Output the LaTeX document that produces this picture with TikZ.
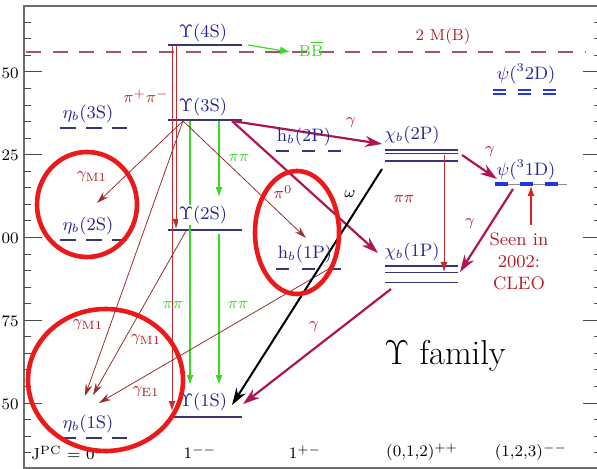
\documentclass[tikz,border=0pt]{standalone}
\usepackage{tikz}
\usetikzlibrary{arrows.meta,positioning,calc}
\usepackage{amsmath,amssymb}
\usepackage{xcolor}
\definecolor{lvlcol}{RGB}{35,35,150}
\definecolor{linecol}{RGB}{55,55,120}
\definecolor{psicol}{RGB}{30,55,225}
\definecolor{thrcol}{RGB}{165,85,95}
\definecolor{radcol}{RGB}{155,45,45}
\definecolor{picol}{RGB}{195,45,45}
\definecolor{seencol}{RGB}{225,30,30}
\definecolor{gamcol}{RGB}{175,20,85}
\definecolor{pipicol}{RGB}{60,215,40}
\definecolor{ringcol}{RGB}{235,25,25}
\definecolor{txtred}{RGB}{175,30,40}
\definecolor{framecol}{RGB}{110,110,110}
\tikzset{
  lvl/.style    ={draw=linecol, line width=0.7pt},
  lvldash/.style={draw=linecol, line width=0.7pt, dash pattern=on 8pt off 5pt},
  hbdash/.style ={draw=linecol, line width=0.7pt, dash pattern=on 6.5pt off 6.5pt},
  psidash/.style={draw=psicol, line width=#1, dash pattern=on 6.5pt off 6pt},
  psidash/.default=1pt,
  thrline/.style={draw=thrcol, line width=0.7pt, dash pattern=on 7.5pt off 5.8pt},
  lvllab/.style ={font=\small, text=lvlcol, inner sep=0.5pt},
  redlab/.style ={font=\footnotesize, text=#1, inner sep=0pt},
  redlab/.default=txtred,
  thinarr/.style={-{Stealth[length=6pt,width=3.5pt]}, line width=0.4pt, draw=radcol},
  gamarr/.style ={-{Stealth[length=8.5pt,width=5.5pt]}, line width=1.1pt, draw=#1},
  gamarr/.default=gamcol,
  pipiarr/.style={-{Latex[length=5pt,width=3.5pt]}, line width=0.6pt, draw=pipicol},
  redarr/.style ={-{Latex[length=5pt,width=3.5pt]}, line width=0.5pt, draw=#1},
  redarr/.default=picol,
  ring/.style   ={draw=ringcol, line width=2.3pt},
}
\begin{document}
\begin{tikzpicture}[x=0.5pt, y=-0.5pt,
  plotframe/.style={draw=framecol, line width=0.8pt},
  axtick/.style={draw=black!70, line width=0.5pt},
  ticklab/.style={font=\footnotesize, anchor=east, inner sep=0pt},
  jpclab/.style={font=\footnotesize, inner sep=0pt},
]
\useasboundingbox (0,0) rectangle (597,469);

%% Frame and ticks
\draw[plotframe] (597,6) -- (24,6) -- (24,468) -- (597,468);
\foreach \k in {0,...,26}
  \draw[axtick] (24,22.35+16.55*\k) -- (31,22.35+16.55*\k)
                (594,22.35+16.55*\k) -- (597,22.35+16.55*\k);
\foreach \k/\lab [count=\i] in {0/50,5/25,10/00,15/75,20/50}{
  \draw[axtick] (24,72+16.55*\k) -- (42,72+16.55*\k)
                (583,72+16.55*\k) -- (597,72+16.55*\k);
  \node[ticklab] (tick\i) at (19,73+16.55*\k) {\lab};
}

%% 2 M(B) threshold
\draw[thrline] (26,52) -- (585,52);
\node[redlab] (twomb) at (443,37) {2 M(B)};
\node[redlab=pipicol] (bbbar) at (311,49) {B$\overline{\mbox{B}}$};

%% Upsilon levels
\coordinate (u4s) at (203,45);
\coordinate (u3s) at (203,120);
\coordinate (u2s) at (203,230);
\coordinate (u1s) at (203,417);
\draw[lvl] (168,45)  -- (242,45);
\draw[lvl] (168,120) -- (242,120);
\draw[lvl] (168,230) -- (242,230);
\draw[lvl] (173,417) -- (242,417);

%% eta_b levels
\coordinate (e3s) at (88,128);
\coordinate (e2s) at (88,240);
\coordinate (e1s) at (88,438);
\draw[lvldash] (60,128) -- (127,128);
\draw[lvldash] (60,240) -- (127,240);
\draw[lvldash] (60,438) -- (127,438);

%% h_b levels
\coordinate (h2p) at (304,151);
\coordinate (h1p) at (305,269);
\draw[hbdash] (276,151) -- (343,151);
\draw[hbdash] (276,269) -- (343,269);

%% chi_b levels
\coordinate (c2p) at (412,150);
\coordinate (c1p) at (412,266);
\foreach \dy in {0,3.3,11}   \draw[lvl] (385,150+\dy) -- (458,150+\dy);
\foreach \dy in {0,6.7,16.7} \draw[lvl] (385,266+\dy) -- (458,266+\dy);

%% D waves
\coordinate (d2) at (526,90);
\coordinate (d1) at (526,184);
\draw[lvl, draw=black!45, line width=0.4pt] (495,184) -- (567,184);
\draw[psidash=1.6pt] (495,184) -- (560,184);
\draw[psidash=0.9pt] (493,90) -- (560,90);
\draw[psidash=0.9pt] (493,94) -- (560,94);

%% Arrow end points
\coordinate (pipiA) at (176,45);  \coordinate (pipiB) at (176,229);
\coordinate (pipiC) at (172,45);  \coordinate (pipiD) at (172,411);
\coordinate (g3sA) at (190,121);  \coordinate (g1sA) at (190,385);
\coordinate (g3sB) at (219,121);  \coordinate (g2sB) at (219,197);
\coordinate (g2sC) at (219,234);  \coordinate (g1sC) at (219,385);
\coordinate (bbA) at (248,45);    \coordinate (bbB) at (290,52);
\coordinate (r3s) at (183,121);   \coordinate (r2s) at (186,231);
\coordinate (rhb) at (332,267);
\coordinate (te2s) at (97,203);   \coordinate (thb1p) at (306,238);
\coordinate (te1sA) at (85,396);  \coordinate (te1sB) at (93,395);
\coordinate (te1sC) at (99,403);
\coordinate (m3s) at (232,121);
\coordinate (tx2p) at (382,144);  \coordinate (tx1p) at (378,253);
\coordinate (x2pR) at (462,155);  \coordinate (tpsi) at (497,179);
\coordinate (psiB) at (513,189);  \coordinate (tx1pR) at (460,272);
\coordinate (x1pL) at (391,289);  \coordinate (tu1sR) at (243,404);
\coordinate (wA) at (382,169);    \coordinate (wB) at (232,405);
\coordinate (x2pM) at (444,155);  \coordinate (x1pM) at (444,272);
\coordinate (seenA) at (531,225); \coordinate (seenB) at (531,186);

%% pi pi transitions
\draw[redarr] (pipiA) -- (pipiB);
\draw[redarr] (pipiC) -- (pipiD);
\draw[pipiarr] (g3sA) -- (g1sA);
\draw[pipiarr] (g3sB) -- (g2sB);
\draw[pipiarr] (g2sC) -- (g1sC);
\draw[redarr] (x2pM) -- (x1pM);
\draw[-{Latex[length=5pt,width=4pt]}, line width=0.6pt, draw=pipicol] (bbA) -- (bbB);

%% M1, E1 and pi0 lines
\draw[thinarr] (r3s) -- (te2s);
\draw[thinarr] (r3s) -- (te1sA);
\draw[thinarr] (r3s) -- (thb1p);
\draw[thinarr] (r2s) -- (te1sB);
\draw[thinarr] (rhb) -- (te1sC);

%% E1 photons
\draw[gamarr] (m3s)  -- (tx2p);
\draw[gamarr] (m3s)  -- (tx1p);
\draw[gamarr] (x2pR) -- (tpsi);
\draw[gamarr] (psiB) -- (tx1pR);
\draw[gamarr] (x1pL) -- (tu1sR);
\draw[-{Stealth[length=8.5pt,width=5.5pt]}, line width=1pt] (wA) -- (wB);
\draw[redarr=seencol, line width=0.6pt] (seenA) -- (seenB);

%% Level labels
\node[lvllab, fill=white, above=1pt of u4s]   (lab4s) {$\Upsilon$(4S)};
\node[lvllab, fill=white, above=1.5pt of u3s] (lab3s) {$\Upsilon$(3S)};
\node[lvllab, fill=white, above=2.5pt of u2s] (lab2s) {$\Upsilon$(2S)};
\node[lvllab, fill=white, above=2.5pt of u1s] (lab1s) {$\Upsilon$(1S)};
\node[lvllab, above=2pt of e3s]   (labe3s) {$\eta_b$(3S)};
\node[lvllab, above=2pt of e2s]   (labe2s) {$\eta_b$(2S)};
\node[lvllab, above=2pt of e1s]   (labe1s) {$\eta_b$(1S)};
\node[lvllab, above=2pt of h2p]   (labh2p) {h$_b$(2P)};
\node[lvllab, above=2.5pt of h1p] (labh1p) {h$_b$(1P)};
\node[lvllab, above=2.5pt of c2p] (labc2p) {$\chi_b$(2P)};
\node[lvllab, above=2pt of c1p]   (labc1p) {$\chi_b$(1P)};
\node[lvllab, above=2.5pt of d2]  (labd2)  {$\psi$($^3$2D)};
\node[lvllab, above=1.5pt of d1]  (labd1)  {$\psi$($^3$1D)};

%% Transition labels
\node[redlab=picol] (lpipi) at (146,96) {$\pi^+\pi^-$};
\node[redlab=pipicol] (lgpp1) at (239,158) {$\pi\pi$};
\node[redlab=pipicol] (lgpp2) at (173,305) {$\pi\pi$};
\node[redlab=pipicol] (lgpp3) at (238,305) {$\pi\pi$};
\node[redlab] (lrpp) at (404,199) {$\pi\pi$};
\node[redlab] (lm1a) at (92,177) {$\gamma_{\rm M1}$};
\node[redlab] (lm1b) at (88,325) {$\gamma_{\rm M1}$};
\node[redlab] (lm1c) at (146,340) {$\gamma_{\rm M1}$};
\node[redlab] (le1)  at (146,392) {$\gamma_{\rm E1}$};
\node[redlab] (lpi0) at (283,192) {$\pi^0$};
\node[redlab=black] (lomega) at (350,194) {$\omega$};
\node[redlab=gamcol] (lga) at (351,123) {$\gamma$};
\node[redlab=gamcol] (lgb) at (490,152) {$\gamma$};
\node[redlab=gamcol] (lgc) at (470,224) {$\gamma$};
\node[redlab=gamcol] (lgd) at (314,327) {$\gamma$};
\node[redlab, font=\small, align=center] (seen) at (519,261) {Seen in\\2002:\\CLEO};
\node[font=\LARGE, inner sep=0pt] (family) at (445,356) {$\Upsilon$ family};

%% J^PC row
\node[jpclab] (jpc0) at (63,453)  {J$^{\rm PC}$ = 0};
\node[jpclab] (jpc1) at (200,452) {1$^{--}$};
\node[jpclab] (jpc2) at (305,452) {1$^{+-}$};
\node[jpclab] (jpc3) at (422,452) {(0,1,2)$^{++}$};
\node[jpclab] (jpc4) at (531,452) {(1,2,3)$^{--}$};

%% Rings
\draw[ring] (87,204.5) ellipse [x radius=50, y radius=52.5];
\draw[ring] (105.5,380) ellipse [x radius=77.5, y radius=71];
\draw[ring] (297,232.5) ellipse [x radius=42, y radius=61.5];

\end{tikzpicture}
\end{document}
